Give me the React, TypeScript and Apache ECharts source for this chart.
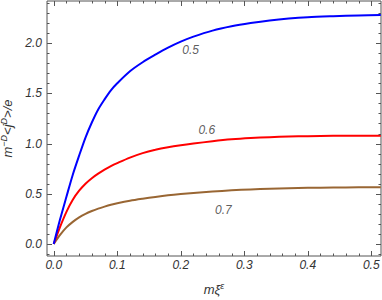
import React, { useEffect, useRef } from "react";
import * as echarts from "echarts";

// x values (m xi^epsilon)
const xValues = [0, 0.01, 0.02, 0.03, 0.04, 0.05, 0.06, 0.07, 0.08, 0.09, 0.1, 0.12, 0.14, 0.16, 0.18, 0.2, 0.22, 0.25, 0.28, 0.31, 0.34, 0.37, 0.4, 0.44, 0.48, 0.515];
// curves labelled 0.5, 0.6, 0.7
const curve05 = [0, 0.245, 0.47, 0.69, 0.88, 1.06, 1.21, 1.34, 1.44, 1.53, 1.6, 1.72, 1.81, 1.885, 1.955, 2.015, 2.065, 2.125, 2.168, 2.2, 2.226, 2.245, 2.258, 2.268, 2.276, 2.28];
const curve06 = [0, 0.17, 0.32, 0.44, 0.53, 0.6, 0.655, 0.7, 0.74, 0.775, 0.805, 0.86, 0.905, 0.938, 0.963, 0.983, 1.0, 1.023, 1.042, 1.055, 1.064, 1.07, 1.074, 1.077, 1.078, 1.079];
const curve07 = [0, 0.09, 0.165, 0.22, 0.265, 0.3, 0.328, 0.352, 0.372, 0.39, 0.405, 0.43, 0.45, 0.468, 0.484, 0.497, 0.508, 0.522, 0.534, 0.543, 0.55, 0.555, 0.559, 0.562, 0.564, 0.565];

const curveNames = ["0.5", "0.6", "0.7"];
const curveColors = ["#0000ff", "#ff0000", "#996633"];
// label anchor points in data coordinates
const labelX = [0.2156, 0.241, 0.267];
const labelY = [1.933, 1.135, 0.336];

// ticks
const xMajorTicks = [0, 0.1, 0.2, 0.3, 0.4, 0.5];
const xMinorTicks = [0.02, 0.04, 0.06, 0.08, 0.12, 0.14, 0.16, 0.18, 0.22, 0.24, 0.26, 0.28, 0.32, 0.34, 0.36, 0.38, 0.42, 0.44, 0.46, 0.48];
const yMajorTicks = [0, 0.5, 1.0, 1.5, 2.0];
const yMinorTicks = [-0.1, 0.1, 0.2, 0.3, 0.4, 0.6, 0.7, 0.8, 0.9, 1.1, 1.2, 1.3, 1.4, 1.6, 1.7, 1.8, 1.9, 2.1, 2.2, 2.3, 2.4];

const X_MIN = -0.0106;
const X_MAX = 0.5153;
const Y_MIN = -0.12;
const Y_MAX = 2.42;

const FRAME = "#555555";
const TEXT = "#333333";
const FONT = "Liberation Sans, Arial, sans-serif";

export default function App() {
  const ref = useRef<HTMLDivElement>(null);
  useEffect(() => {
    if (!ref.current) return;
    const chart = echarts.init(ref.current, null, { renderer: "svg" });

    const richStyle = {
      i: { fontFamily: FONT, fontStyle: "italic", fontSize: 13, color: TEXT, lineHeight: 16 },
      s: { fontFamily: FONT, fontStyle: "italic", fontSize: 9, color: TEXT, lineHeight: 16, verticalAlign: "top", padding: [0, 0, 5, 0] },
    };

    const labelStyle = {
      color: TEXT,
      fontFamily: FONT,
      fontStyle: "italic",
      fontSize: 12,
    };

    // tick data: [value, kind]  kind 0 = x major, 1 = x minor, 2 = y major, 3 = y minor
    const tickData: number[][] = [
      ...xMajorTicks.map((v) => [v, 0]),
      ...xMinorTicks.map((v) => [v, 1]),
      ...yMajorTicks.map((v) => [v, 2]),
      ...yMinorTicks.map((v) => [v, 3]),
    ];

    const option: any = {
      animation: false,
      backgroundColor: "#ffffff",
      grid: {
        left: 47, right: 1, top: 1, bottom: 44,
        containLabel: false, outerBoundsMode: "none",
        show: true, borderColor: FRAME, borderWidth: 1, backgroundColor: "transparent",
      },
      xAxis: {
        type: "value",
        min: X_MIN,
        max: X_MAX,
        splitLine: { show: false },
        axisLine: { show: false },
        axisTick: { show: false },
        axisLabel: {
          ...labelStyle,
          customValues: xMajorTicks,
          formatter: (v: number) => v.toFixed(1),
          margin: 3,
        },
        name: "{i|mξ}{s|ε}",
        nameLocation: "middle",
        nameGap: 25,
        nameTextStyle: { rich: richStyle },
      },
      yAxis: {
        type: "value",
        min: Y_MIN,
        max: Y_MAX,
        splitLine: { show: false },
        axisLine: { show: false },
        axisTick: { show: false },
        axisLabel: {
          ...labelStyle,
          customValues: yMajorTicks,
          formatter: (v: number) => v.toFixed(1),
          margin: 5,
        },
        name: "{i|m}{s|−D}{i|<j}{s|D}{i|>/e}",
        nameLocation: "middle",
        nameRotate: 90,
        nameGap: 23,
        nameTextStyle: { rich: richStyle },
      },
      series: [
        ...[curve05, curve06, curve07].map((ys, i) => ({
          type: "line",
          name: curveNames[i],
          data: xValues.map((x, j) => [x, ys[j]]),
          smooth: 0.3,
          showSymbol: false,
          symbol: "none",
          lineStyle: { color: curveColors[i], width: 2 },
          z: 3 - i,
        })),
        {
          type: "custom",
          silent: true,
          clip: false,
          z: 10,
          data: tickData,
          renderItem: (params: any, api: any) => {
            const v = api.value(0);
            const kind = api.value(1);
            const cs = params.coordSys;
            const style = { stroke: FRAME, lineWidth: 1 };
            if (kind < 2) {
              const px = Math.round(api.coord([v, 0])[0]) + 0.5;
              const len = kind === 0 ? 5 : 2.5;
              const bottom = cs.y + cs.height;
              return {
                type: "group",
                children: [
                  { type: "line", shape: { x1: px, y1: bottom, x2: px, y2: bottom - len }, style },
                  { type: "line", shape: { x1: px, y1: cs.y, x2: px, y2: cs.y + len }, style },
                ],
              };
            }
            const py = Math.round(api.coord([0, v])[1]) + 0.5;
            const len = kind === 2 ? 5 : 2.5;
            const right = cs.x + cs.width;
            return {
              type: "group",
              children: [
                { type: "line", shape: { x1: cs.x, y1: py, x2: cs.x + len, y2: py }, style },
                { type: "line", shape: { x1: right, y1: py, x2: right - len, y2: py }, style },
              ],
            };
          },
        },
        {
          type: "scatter",
          symbolSize: 0,
          data: curveNames.map((n, i) => ({ name: n, value: [labelX[i], labelY[i]] })),
          label: {
            show: true,
            position: "inside",
            formatter: (p: any) => p.name,
            ...labelStyle,
          },
          z: 5,
        },
      ],
    };
    chart.setOption(option);
    return () => chart.dispose();
  }, []);
  return <div ref={ref} style={{ width: 382, height: 300, position: "absolute", left: 0, top: 0 }} />;
}
